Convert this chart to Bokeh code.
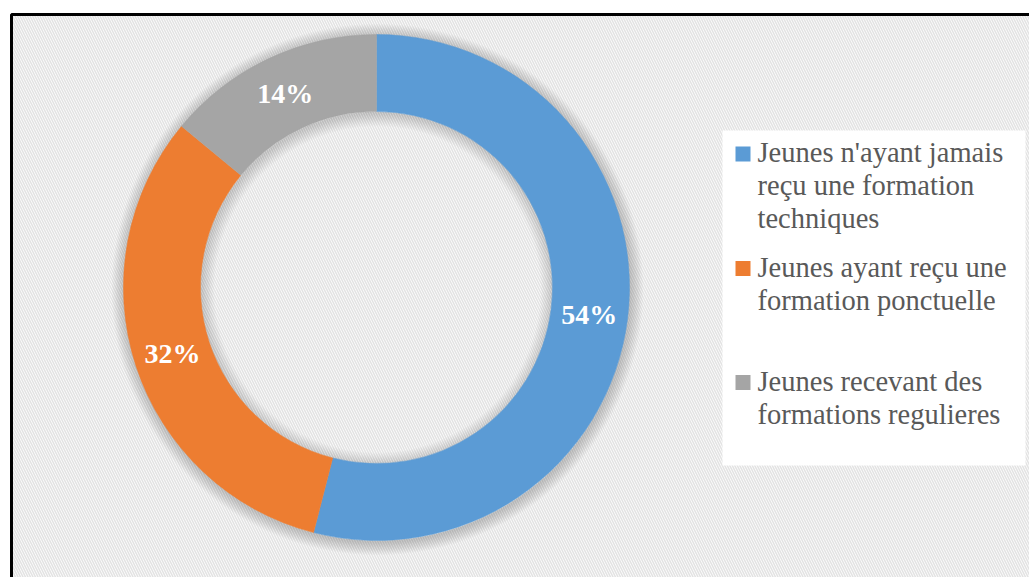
import math
from bokeh.plotting import figure
from bokeh.models import Range1d
from bokeh.core.properties import value
from bokeh.embed import file_html
from bokeh.resources import INLINE

# ---- data ----
categories = [
    "Jeunes n'ayant jamais\nreçu une formation\ntechniques",
    "Jeunes ayant reçu une\nformation ponctuelle",
    "Jeunes recevant des\nformations regulieres",
]
shares = [54, 32, 14]
labels = ["54%", "32%", "14%"]
colors = ["#5B9BD5", "#ED7D31", "#A5A5A5"]

# ---- layout (picture pixel coordinates) ----
W, H = 1029, 577
def px(x):
    return x
def py(y):
    return H - y

cx, cy = px(376), py(287)
r_out, r_in = 253, 176
marker_centers = [153.5, 268, 382]
text_offset = -1.5
line_step = 33

FONT = "Liberation Serif"

p = figure(width=W, height=H, output_backend="svg", toolbar_location=None,
           x_range=Range1d(0, W), y_range=Range1d(0, H), min_border=0)
p.axis.visible = False
p.grid.visible = False
p.outline_line_color = None
p.background_fill_color = "white"
p.border_fill_color = "white"

# frame with diagonal hatch
p.quad(left=[px(11)], right=[px(1100)], top=[py(14)], bottom=[py(700)],
       fill_color="white", hatch_pattern="\\", hatch_color="#e3e3e3",
       hatch_scale=5, hatch_weight=1.6, line_color="black", line_width=3)

# soft shadow around the ring
for i in range(10):
    p.annulus(x=[cx + 1], y=[cy - 2], inner_radius=r_out - 2, outer_radius=r_out + 1 + i * 1.3,
              fill_color="#000000", fill_alpha=0.018, line_color=None)
    p.annulus(x=[cx + 1], y=[cy - 2], inner_radius=r_in - 1 - i * 1.3, outer_radius=r_in + 2,
              fill_color="#000000", fill_alpha=0.015, line_color=None)

# donut
total = float(sum(shares))
start = math.pi / 2
lx, ly = [], []
for s, c in zip(shares, colors):
    sweep = 2 * math.pi * s / total
    end = start - sweep
    p.annular_wedge(x=[cx], y=[cy], inner_radius=r_in, outer_radius=r_out,
                    start_angle=[start], end_angle=[end], direction="clock",
                    fill_color=c, line_color=c, line_width=0.5)
    mid = start - sweep / 2
    rm = (r_in + r_out) / 2
    lx.append(cx + rm * math.cos(mid))
    ly.append(cy + rm * math.sin(mid))
    start = end

p.text(x=lx, y=ly, text=labels, text_color="white", text_font=value(FONT),
       text_font_style="bold", text_font_size="28px", text_align="center",
       text_baseline="middle")

# legend
p.quad(left=[px(722)], right=[px(1025)], top=[py(130)], bottom=[py(465)],
       fill_color="white", line_color=None)
for cat, c, my in zip(categories, colors, marker_centers):
    p.rect(x=[px(742.5)], y=[py(my)], width=15, height=15,
           fill_color=c, line_color=None)
    lines = cat.split("\n")
    p.text(x=[px(757)] * len(lines),
           y=[py(my + text_offset + k * line_step) for k in range(len(lines))],
           text=lines, text_color="#595959", text_font=value(FONT),
           text_font_size="28.5px", text_baseline="middle", text_align="left")

open("out.html", "w").write(file_html(p, INLINE))
